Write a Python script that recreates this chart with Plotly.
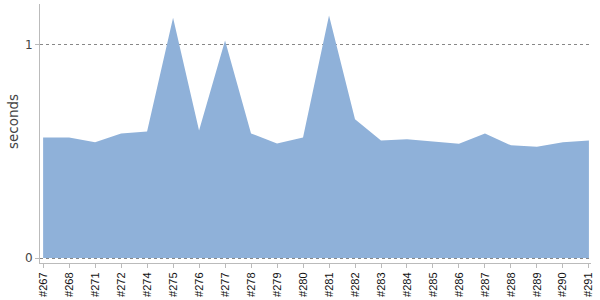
import plotly.graph_objects as go

builds = ["#267", "#268", "#271", "#272", "#274", "#275", "#276", "#277", "#278", "#279", "#280",
          "#281", "#282", "#283", "#284", "#285", "#286", "#287", "#288", "#289", "#290", "#291"]
seconds = [0.565, 0.565, 0.542, 0.584, 0.593, 1.126, 0.598, 1.019, 0.584, 0.537, 0.565,
           1.136, 0.650, 0.551, 0.556, 0.547, 0.535, 0.584, 0.528, 0.521, 0.542, 0.551]

fig = go.Figure()
fig.add_trace(go.Scatter(
    x=builds, y=seconds, mode="lines", fill="tozeroy",
    line=dict(color="rgb(143,177,217)", width=0),
    fillcolor="rgb(143,177,217)", hoverinfo="x+y",
))

fig.update_layout(
    width=600, height=300,
    margin=dict(l=40, r=9, t=4, b=37),
    paper_bgcolor="white", plot_bgcolor="white",
    showlegend=False,
    font=dict(family="DejaVu Sans", color="#444"),
    annotations=[dict(
        text="seconds", xref="paper", yref="paper", x=-0.049, y=0.544,
        xanchor="center", yanchor="middle", textangle=-90, showarrow=False,
        font=dict(family="DejaVu Sans", size=13.5, color="#444"),
    )],
)
fig.update_xaxes(
    type="category", range=[-0.12, 21.08],
    showgrid=False, showline=True, linecolor="#bbbbbb", linewidth=1,
    ticks="outside", ticklen=4, tickcolor="#bbbbbb",
    tickangle=-90, tickfont=dict(family="Liberation Sans", size=11, color="#111"),
)
fig.update_yaxes(
    range=[-0.023, 1.19], tickvals=[0, 1], ticktext=["0", "1"],
    showgrid=True, gridcolor="#888888", griddash="dot", gridwidth=1,
    zeroline=False, showline=True, linecolor="#bbbbbb", linewidth=1,
    ticks="outside", ticklen=4, tickcolor="#bbbbbb",
    tickfont=dict(family="DejaVu Sans", size=12, color="#444"),
)

fig.write_html("out.html")
